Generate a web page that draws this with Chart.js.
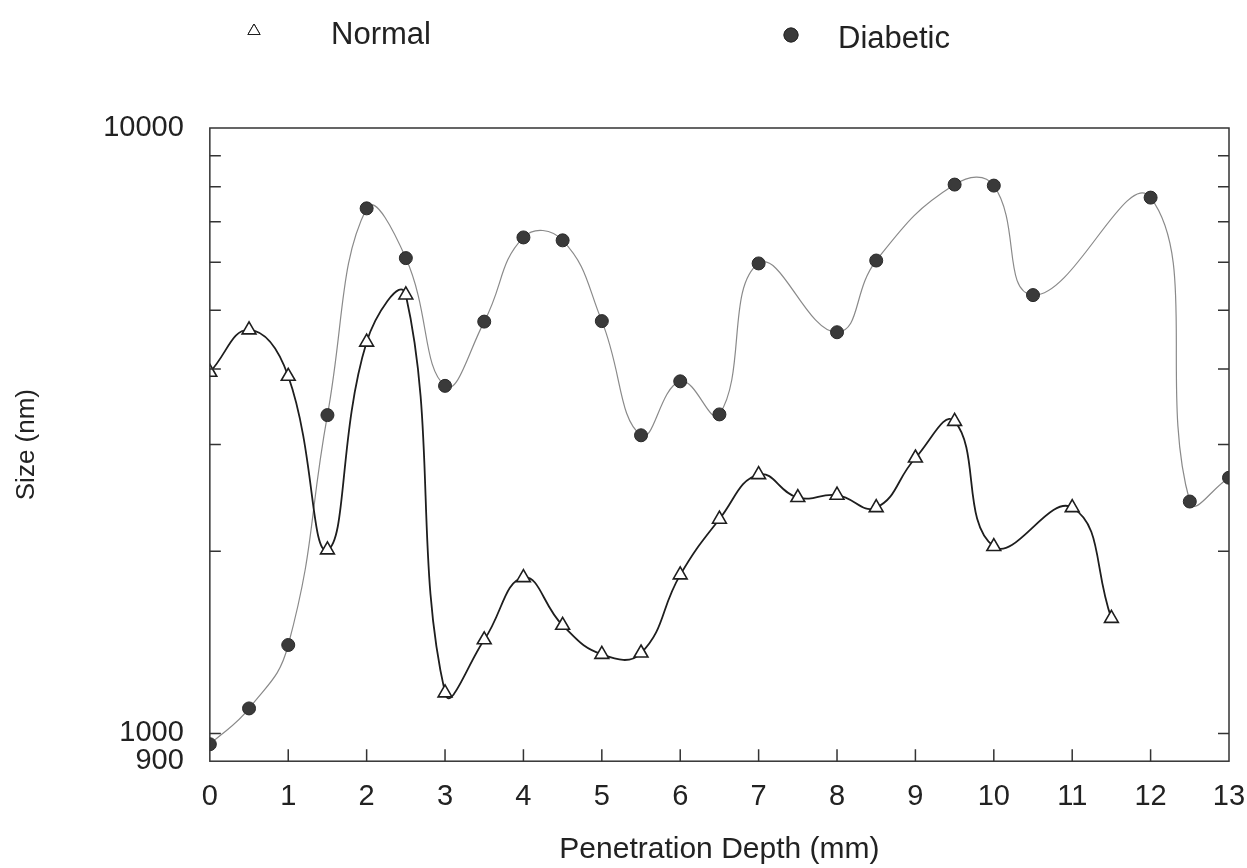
<!DOCTYPE html>
<html>
<head>
<meta charset="utf-8">
<script src="https://cdn.jsdelivr.net/npm/chart.js@4/dist/chart.umd.min.js"></script>
<style>
  html, body { margin: 0; padding: 0; background: #fff; }
  #wrap { width: 1247px; height: 868px; }
</style>
</head>
<body>
<div id="wrap"><canvas id="depthChart" width="1247" height="868"></canvas></div>
<script>
// values (log y axis)
const normalDepth = [0, 0.5, 1, 1.5, 2, 2.5, 3, 3.5, 4, 4.5, 5, 5.5, 6, 6.5, 7, 7.5, 8, 8.5, 9, 9.5, 10, 11, 11.5];
const normalSize  = [3950, 4640, 3890, 2010, 4430, 5300, 1167, 1428, 1809, 1509, 1351, 1358, 1828, 2259, 2676, 2453, 2475, 2361, 2851, 3277, 2036, 2361, 1549];

const diabeticDepth = [0, 0.5, 1, 1.5, 2, 2.5, 3, 3.5, 4, 4.5, 5, 5.5, 6, 6.5, 7, 8, 8.5, 9.5, 10, 10.5, 12, 12.5, 13];
const diabeticSize  = [960, 1100, 1400, 3356, 7367, 6097, 3751, 4789, 6596, 6523, 4798, 3108, 3816, 3365, 5975, 4599, 6041, 8064, 8033, 5297, 7674, 2416, 2645];

const xTicks = [0, 1, 2, 3, 4, 5, 6, 7, 8, 9, 10, 11, 12, 13];
const yTicks = [900, 1000, 2000, 3000, 4000, 5000, 6000, 7000, 8000, 9000, 10000];
const yLabels = [900, 1000, 10000];

const FONT = "'Liberation Sans', Arial, Helvetica, sans-serif";
const INK = '#222';

// box round the plot with short ticks pointing inward
const boxTicks = {
  id: 'boxTicks',
  afterDraw(chart) {
    const {ctx, chartArea: a, scales: {x, y}} = chart;
    ctx.save();
    ctx.strokeStyle = '#333';
    ctx.lineWidth = 1.5;
    ctx.strokeRect(a.left, a.top, a.right - a.left, a.bottom - a.top);
    ctx.beginPath();
    y.ticks.forEach(t => {
      if (t.value === 900 || t.value === 10000) return;
      const py = y.getPixelForValue(t.value);
      ctx.moveTo(a.left, py); ctx.lineTo(a.left + 11, py);
      ctx.moveTo(a.right, py); ctx.lineTo(a.right - 11, py);
    });
    x.ticks.forEach(t => {
      if (t.value === 0 || t.value === 13) return;
      const px = x.getPixelForValue(t.value);
      ctx.moveTo(px, a.bottom); ctx.lineTo(px, a.bottom - 12);
    });
    ctx.stroke();
    ctx.restore();
  }
};

// legend across the top, marker far from its text
const topLegend = {
  id: 'topLegend',
  afterDraw(chart) {
    const {ctx} = chart;
    const spots = [{mx: 254, tx: 331, y: 35, r: 7}, {mx: 791, tx: 838, y: 39, r: 7}];
    ctx.save();
    chart.data.datasets.forEach((ds, i) => {
      const s = spots[i];
      Chart.helpers.drawPoint(ctx, {
        pointStyle: ds.pointStyle, radius: s.r,
        borderWidth: ds.pointBorderWidth, rotation: 0
      }, s.mx, s.y - 4);
      ctx.fillStyle = ds.pointBackgroundColor;
      ctx.strokeStyle = ds.pointBorderColor;
      ctx.fill(); ctx.stroke();
      ctx.fillStyle = INK;
      ctx.font = '31px ' + FONT;
      ctx.textBaseline = 'middle';
      ctx.fillText(ds.label, s.tx, s.y);
    });
    ctx.restore();
  }
};

new Chart(document.getElementById('depthChart'), {
  type: 'line',
  data: {
    datasets: [
      {
        label: 'Normal',
        data: normalDepth.map((d, i) => ({x: d, y: normalSize[i]})),
        borderColor: '#1e1e1e', borderWidth: 1.8,
        pointStyle: 'triangle', pointRadius: 8, pointBorderWidth: 1.6,
        pointBackgroundColor: '#fff', pointBorderColor: '#1e1e1e',
        tension: 0.45, fill: false
      },
      {
        label: 'Diabetic',
        data: diabeticDepth.map((d, i) => ({x: d, y: diabeticSize[i]})),
        borderColor: '#8a8a8a', borderWidth: 1.2,
        pointStyle: 'circle', pointRadius: 6.5, pointBorderWidth: 1,
        pointBackgroundColor: '#3a3a3a', pointBorderColor: '#2a2a2a',
        tension: 0.45, fill: false
      }
    ]
  },
  options: {
    responsive: false,
    animation: false,
    layout: { padding: { left: 0, right: 18, top: 128, bottom: 0 } },
    plugins: { legend: { display: false }, tooltip: { enabled: false } },
    scales: {
      x: {
        type: 'linear', min: 0, max: 13,
        afterBuildTicks: s => { s.ticks = xTicks.map(v => ({value: v})); },
        afterFit: s => { s.paddingRight = 0; },
        grid: { display: false, drawTicks: false },
        border: { display: false },
        ticks: { color: INK, font: { family: FONT, size: 29 }, padding: 18, maxRotation: 0, autoSkip: false },
        title: {
          display: true, text: 'Penetration Depth (mm)', color: INK,
          font: { family: FONT, size: 30 }, padding: { top: 0, bottom: 0 }
        }
      },
      y: {
        type: 'logarithmic', min: 900, max: 10000,
        afterBuildTicks: s => { s.ticks = yTicks.map(v => ({value: v})); },
        grid: { display: false, drawTicks: false },
        border: { display: false },
        ticks: {
          color: INK, font: { family: FONT, size: 29 }, padding: 26, autoSkip: false,
          callback: v => yLabels.includes(v) ? String(v) : ''
        },
        title: {
          display: true, text: 'Size (nm)', color: INK,
          font: { family: FONT, size: 26 }, padding: { top: 11, bottom: 35 }
        }
      }
    }
  },
  plugins: [boxTicks, topLegend]
});
</script>
</body>
</html>
